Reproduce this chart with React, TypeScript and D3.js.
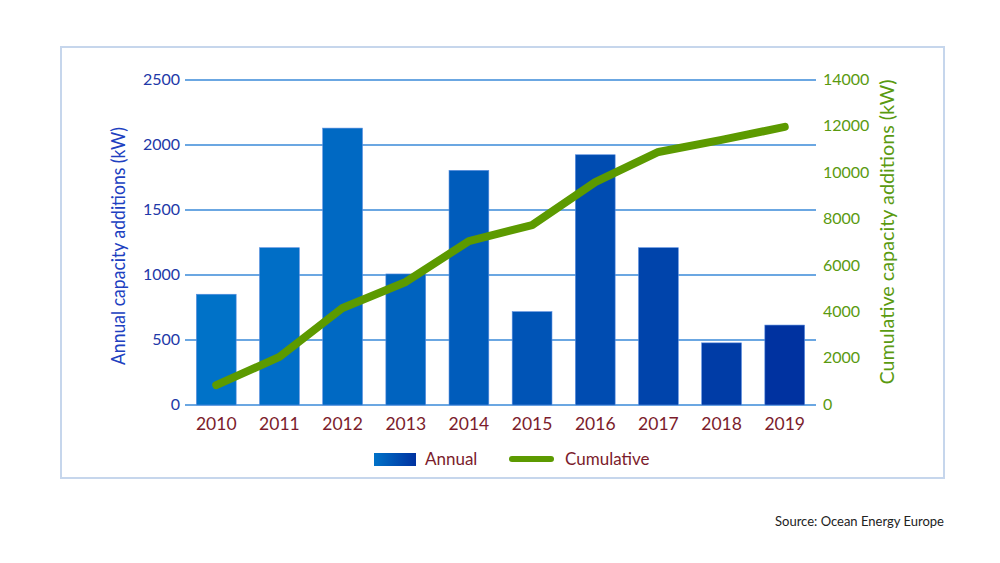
import React from "react";
import * as d3 from "d3";

const years = ["2010","2011","2012","2013","2014","2015","2016","2017","2018","2019"];
const annual = [852, 1210, 2130, 1008, 1805, 718, 1925, 1210, 478, 615];
const cumulative = [860, 2070, 4180, 5300, 7060, 7750, 9600, 10900, 11420, 11980];
const leftTicks = [0, 500, 1000, 1500, 2000, 2500];
const rightTicks = [0, 2000, 4000, 6000, 8000, 10000, 12000, 14000];
const barColors = ["#0072c8", "#006ec6", "#0069c3", "#0063bf", "#005cbb", "#0054b6", "#004cb1", "#0044ab", "#003ca6", "#0032a0"];

const FONT = "Lato, 'Open Sans', sans-serif";

export default function App() {
  const W = 1000, H = 563;
  const x0 = 185, x1 = 816, yTop = 80, yBot = 405;
  const x = d3.scaleBand().domain(years).range([x0, x1]).paddingInner(0.37).paddingOuter(0.18);
  const yL = d3.scaleLinear().domain([0, 2500]).range([yBot, yTop]);
  const yR = d3.scaleLinear().domain([0, 14000]).range([yBot, yTop]);
  const line = d3.line<number>()
    .x((_, i) => (x(years[i]) as number) + x.bandwidth() / 2)
    .y((d) => yR(d));

  return (
    <svg width={W} height={H} style={{ position: "absolute", left: 0, top: 0, background: "#fff" }}>
      <defs>
        <linearGradient id="legGrad" x1="0" x2="1" y1="0" y2="0">
          <stop offset="0" stopColor="#0072c8" />
          <stop offset="1" stopColor="#0032a0" />
        </linearGradient>
      </defs>
      <rect x={61} y={47} width={883} height={431} fill="#fff" stroke="#c6d6ec" strokeWidth={2} />
      {leftTicks.map((t) => (
        <g key={t}>
          <line x1={x0} x2={x1} y1={yL(t)} y2={yL(t)} stroke="#3a8ad8" strokeWidth={1.3} />
          <text x={180} y={yL(t)} dy="0.3em" textAnchor="end" fontFamily={FONT} fontSize={16} fill="#2238a8">{t}</text>
        </g>
      ))}
      {rightTicks.map((t) => (
        <text key={t} x={823} y={yR(t)} dy="0.3em" textAnchor="start" fontFamily={FONT} fontSize={16} fill="#5a9a10">{t}</text>
      ))}
      {annual.map((v, i) => (
        <rect key={years[i]} x={x(years[i])} y={yL(v)} width={x.bandwidth()} height={yBot - yL(v)}
          fill={barColors[i]} stroke="#5a8ee0" strokeWidth={0.6} />
      ))}
      {years.map((yr) => (
        <text key={yr} x={(x(yr) as number) + x.bandwidth() / 2} y={430} textAnchor="middle" fontFamily={FONT} fontSize={17.5} fill="#7b1c2c">{yr}</text>
      ))}
      <path d={line(cumulative) || ""} fill="none" stroke="#5c9a00" strokeWidth={8} strokeLinecap="round" strokeLinejoin="round" />
      <text transform={`translate(125,246) rotate(-90)`} textAnchor="middle" fontFamily={FONT} fontSize={20} fill="#2040c0"
        textLength={238} lengthAdjust="spacingAndGlyphs">Annual capacity additions (kW)</text>
      <text transform={`translate(894,232) rotate(-90)`} textAnchor="middle" fontFamily={FONT} fontSize={20} fill="#5a9a10"
        textLength={305} lengthAdjust="spacingAndGlyphs">Cumulative capacity additions (kW)</text>
      <rect x={374} y={453} width={42} height={13} fill="url(#legGrad)" />
      <text x={425} y={465} fontFamily={FONT} fontSize={17} fill="#7b1c2c">Annual</text>
      <line x1={512} x2={551} y1={459} y2={459} stroke="#5c9a00" strokeWidth={6} strokeLinecap="round" />
      <text x={565} y={465} fontFamily={FONT} fontSize={17} fill="#7b1c2c">Cumulative</text>
      <text x={775} y={526} fontFamily={FONT} fontSize={13} fill="#222">Source: Ocean Energy Europe</text>
    </svg>
  );
}
